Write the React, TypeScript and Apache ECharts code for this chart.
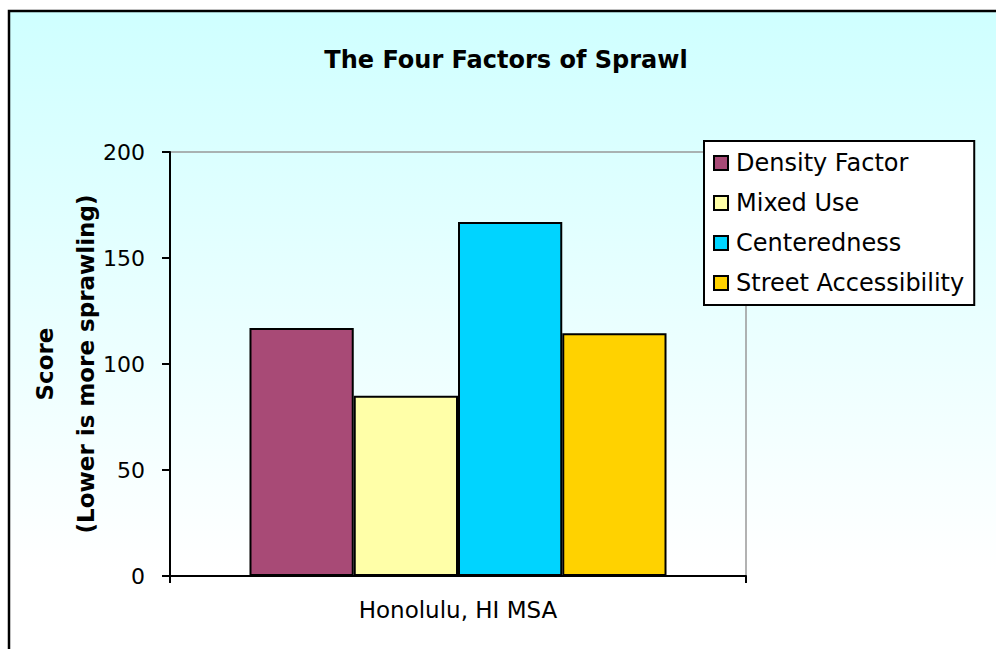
import React, { useEffect, useRef } from "react";
import * as echarts from "echarts";

const categories = ["Honolulu, HI MSA"];
const seriesNames = ["Density Factor", "Mixed Use", "Centeredness", "Street Accessibility"];
const densityValues = [117];
const mixedUseValues = [85];
const centerednessValues = [167];
const streetValues = [114.5];
const seriesColors = ["#a84a76", "#ffffa8", "#00d4ff", "#ffd200"];
const yTicks = { min: 0, max: 200, interval: 50 };

export default function App() {
  const ref = useRef<HTMLDivElement>(null);
  useEffect(() => {
    if (!ref.current) return;
    const chart = echarts.init(ref.current, undefined, { renderer: "svg" });
    const valuesList = [densityValues, mixedUseValues, centerednessValues, streetValues];
    const font = "'DejaVu Sans', Verdana, sans-serif";
    chart.setOption({
      animation: false,
      backgroundColor: "#ffffff",
      graphic: [
        {
          type: "rect",
          z: -10,
          silent: true,
          shape: { x: 9, y: 11, width: 1100, height: 900 },
          style: {
            fill: new echarts.graphic.LinearGradient(0, 0, 0, 1, [
              { offset: 0, color: "#cfffff" },
              { offset: 0.62, color: "#ffffff" },
              { offset: 1, color: "#ffffff" },
            ]),
            stroke: "#000000",
            lineWidth: 2.5,
          },
        },
        {
          type: "text",
          x: 506,
          y: 60,
          style: {
            text: "The Four Factors of Sprawl",
            fill: "#000",
            font: `bold 24px ${font}`,
            textAlign: "center",
            textVerticalAlign: "middle",
          },
        },
      ],
      legend: {
        orient: "vertical",
        left: 704,
        top: 141,
        padding: [8, 10, 8, 9],
        backgroundColor: "#ffffff",
        borderColor: "#000000",
        borderWidth: 2,
        itemWidth: 14,
        itemHeight: 14,
        itemGap: 12,
        icon: "rect",
        textStyle: { fontFamily: font, fontSize: 24, color: "#000", lineHeight: 28, padding: [0, 0, 0, 3] },
        data: seriesNames,
      },
      grid: {
        left: 170,
        right: 250,
        top: 152,
        bottom: 73,
        show: true,
        borderColor: "#999999",
        borderWidth: 1.5,
        backgroundColor: "transparent",
      },
      xAxis: {
        type: "category",
        data: categories,
        axisLine: { lineStyle: { color: "#000", width: 2 } },
        axisTick: { show: true, length: 7, lineStyle: { color: "#000", width: 2 } },
        axisLabel: { fontFamily: font, fontSize: 23, color: "#000", margin: 22 },
      },
      yAxis: {
        type: "value",
        min: yTicks.min,
        max: yTicks.max,
        interval: yTicks.interval,
        name: "Score\n(Lower is more sprawling)",
        nameLocation: "middle",
        nameRotate: 90,
        nameGap: 64,
        nameMoveOverlap: false,
        nameTextStyle: { fontFamily: font, fontSize: 23, fontWeight: "bold", color: "#000", lineHeight: 41 },
        axisLine: { show: true, lineStyle: { color: "#000", width: 2 } },
        axisTick: { show: true, length: 8, lineStyle: { color: "#000", width: 2 } },
        axisLabel: { fontFamily: font, fontSize: 22, color: "#000", margin: 25 },
        splitLine: { show: false },
      },
      series: seriesNames.map((name, i) => ({
        name,
        type: "bar",
        data: valuesList[i],
        barGap: "0%",
        barCategoryGap: "27.6%",
        itemStyle: { color: seriesColors[i], borderColor: "#000", borderWidth: 2 },
      })),
    });
    return () => chart.dispose();
  }, []);
  return <div ref={ref} style={{ position: "fixed", left: 0, top: 0, width: 996, height: 649 }} />;
}
